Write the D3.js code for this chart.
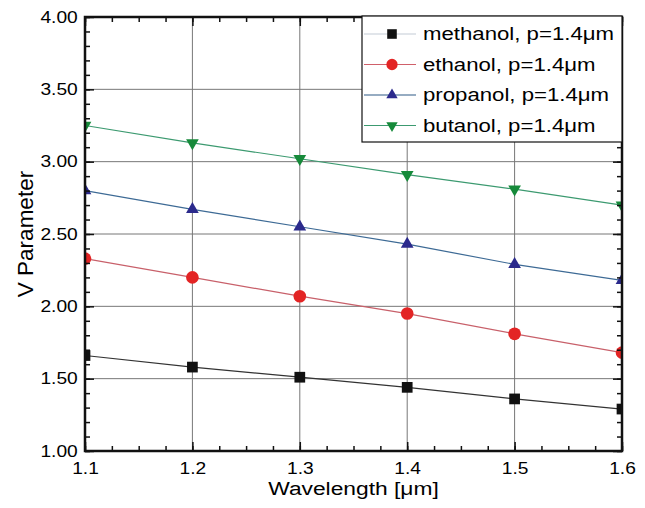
<!DOCTYPE html>
<html>
<head>
<meta charset="utf-8">
<script src="https://cdn.jsdelivr.net/npm/d3@7"></script>
<style>
  body { margin: 0; background: #fff; }
  text { font-family: "Liberation Sans", Arial, sans-serif; }
</style>
</head>
<body>
<div id="chart"></div>
<script>
// Data
const wavelengths = [1.1, 1.2, 1.3, 1.4, 1.5, 1.6];
const methanol = [1.66, 1.58, 1.51, 1.44, 1.36, 1.29];
const ethanol  = [2.33, 2.20, 2.07, 1.95, 1.81, 1.68];
const propanol = [2.80, 2.67, 2.55, 2.43, 2.29, 2.18];
const butanol  = [3.25, 3.13, 3.02, 2.91, 2.81, 2.70];
const seriesNames = ["methanol, p=1.4\u03bcm", "ethanol, p=1.4\u03bcm", "propanol, p=1.4\u03bcm", "butanol, p=1.4\u03bcm"];
const xTicks = [1.1, 1.2, 1.3, 1.4, 1.5, 1.6];
const yTicks = [1.0, 1.5, 2.0, 2.5, 3.0, 3.5, 4.0];

const series = [
    { name: seriesNames[0], values: methanol, line: "#333", key: "#c4ccd6", fill: "#111", symbol: d3.symbolSquare, size: 115, rot: 0 },
    { name: seriesNames[1], values: ethanol,  line: "#c8606a", key: "#d0606a", fill: "#e32424", symbol: d3.symbolCircle, size: 125, rot: 0 },
    { name: seriesNames[2], values: propanol, line: "#3d6a95", key: "#2f5a85", fill: "#2b2a8c", symbol: d3.symbolTriangle, size: 70, rot: 0 },
    { name: seriesNames[3], values: butanol,  line: "#3c9a70", key: "#3c9a70", fill: "#168a3a", symbol: d3.symbolTriangle, size: 70, rot: 180 }
];

// the reference text is a bit wider than tall
const stretch = 1.2;

const width = 645, height = 508;
const margin = { top: 17, right: 23, bottom: 57, left: 85 };

const svg = d3.select("#chart")
    .append("svg")
    .attr("width", width)
    .attr("height", height);

const x = d3.scaleLinear()
    .domain([1.1, 1.6])
    .range([margin.left, width - margin.right]);

const y = d3.scaleLinear()
    .domain([1.0, 4.0])
    .range([height - margin.bottom, margin.top]);

const x0 = margin.left, x1 = width - margin.right;
const y0 = height - margin.bottom, y1 = margin.top;

// grid lines
svg.append("g")
    .selectAll("line")
    .data(xTicks.slice(1, -1))
    .enter()
    .append("line")
    .attr("x1", d => x(d)).attr("x2", d => x(d))
    .attr("y1", y0).attr("y2", y1)
    .attr("stroke", "#777")
    .attr("stroke-width", 1);

svg.append("g")
    .selectAll("line")
    .data(yTicks.slice(1, -1))
    .enter()
    .append("line")
    .attr("x1", x0).attr("x2", x1)
    .attr("y1", d => y(d)).attr("y2", d => y(d))
    .attr("stroke", "#777")
    .attr("stroke-width", 1);

// clip the plotted series to the frame
svg.append("clipPath")
    .attr("id", "plot-clip")
    .append("rect")
    .attr("x", x0).attr("y", y1)
    .attr("width", x1 - x0).attr("height", y0 - y1);

const plot = svg.append("g").attr("clip-path", "url(#plot-clip)");

const line = d3.line()
    .x((d, i) => x(wavelengths[i]))
    .y(d => y(d));

series.forEach(s => {
    plot.append("path")
        .datum(s.values)
        .attr("d", line)
        .attr("fill", "none")
        .attr("stroke", s.line)
        .attr("stroke-width", 1.2);

    plot.selectAll(null)
        .data(s.values)
        .enter()
        .append("path")
        .attr("d", d3.symbol().type(s.symbol).size(s.size))
        .attr("transform", (d, i) => `translate(${x(wavelengths[i])},${y(d)}) rotate(${s.rot})`)
        .attr("fill", s.fill);
});

// axes (inward ticks on all four sides)
const minorX = d3.range(1.1, 1.6001, 0.025);
const minorY = d3.range(1.0, 4.0001, 0.1);

svg.append("g")
    .attr("transform", `translate(0,${y0})`)
    .call(d3.axisBottom(x).tickValues(minorX).tickSize(-5).tickFormat(""))
    .call(g => g.select(".domain").remove());
svg.append("g")
    .attr("transform", `translate(0,${y0})`)
    .call(d3.axisBottom(x).tickValues(xTicks).tickSize(-9).tickPadding(12).tickFormat(d3.format(".1f")))
    .call(g => g.select(".domain").remove())
    .selectAll("text")
    .attr("font-size", 16)
    .attr("fill", "#000")
    .attr("transform", `scale(${stretch},1)`);

svg.append("g")
    .attr("transform", `translate(0,${y1})`)
    .call(d3.axisTop(x).tickValues(minorX).tickSize(-5).tickFormat(""))
    .call(g => g.select(".domain").remove());
svg.append("g")
    .attr("transform", `translate(0,${y1})`)
    .call(d3.axisTop(x).tickValues(xTicks).tickSize(-9).tickFormat(""))
    .call(g => g.select(".domain").remove());

svg.append("g")
    .attr("transform", `translate(${x0},0)`)
    .call(d3.axisLeft(y).tickValues(minorY).tickSize(-5).tickFormat(""))
    .call(g => g.select(".domain").remove());
svg.append("g")
    .attr("transform", `translate(${x0},0)`)
    .call(d3.axisLeft(y).tickValues(yTicks).tickSize(-9).tickPadding(6).tickFormat(d3.format(".2f")))
    .call(g => g.select(".domain").remove())
    .selectAll("text")
    .attr("font-size", 16)
    .attr("fill", "#000")
    .attr("transform", `scale(${stretch},1)`);

svg.append("g")
    .attr("transform", `translate(${x1},0)`)
    .call(d3.axisRight(y).tickValues(minorY).tickSize(-5).tickFormat(""))
    .call(g => g.select(".domain").remove());
svg.append("g")
    .attr("transform", `translate(${x1},0)`)
    .call(d3.axisRight(y).tickValues(yTicks).tickSize(-9).tickFormat(""))
    .call(g => g.select(".domain").remove());

svg.selectAll(".tick line").attr("stroke", "#111").attr("stroke-width", 1.5);

// frame
svg.append("rect")
    .attr("x", x0).attr("y", y1)
    .attr("width", x1 - x0).attr("height", y0 - y1)
    .attr("fill", "none")
    .attr("stroke", "#111")
    .attr("stroke-width", 2.5);

// axis labels
svg.append("text")
    .attr("transform", `translate(${(x0 + x1) / 2},${height - 13}) scale(${stretch},1)`)
    .attr("text-anchor", "middle")
    .attr("font-size", 19)
    .attr("fill", "#000")
    .text("Wavelength [\u03bcm]");

svg.append("text")
    .attr("transform", "rotate(-90)")
    .attr("x", -(y0 + y1) / 2)
    .attr("y", 33)
    .attr("text-anchor", "middle")
    .attr("font-size", 22.5)
    .attr("fill", "#000")
    .text("V Parameter");

// legend
const legend = svg.append("g");
legend.append("rect")
    .attr("x", 362).attr("y", y1 - 1)
    .attr("width", x1 - 362).attr("height", 126)
    .attr("fill", "#fff")
    .attr("stroke", "#111")
    .attr("stroke-width", 1.2);

series.forEach((s, i) => {
    const ly = 34 + i * 30.5;
    legend.append("line")
        .attr("x1", 364).attr("x2", 416)
        .attr("y1", ly).attr("y2", ly)
        .attr("stroke", s.key)
        .attr("stroke-width", 1.2);
    legend.append("path")
        .attr("d", d3.symbol().type(s.symbol).size(s.size * 0.8))
        .attr("transform", `translate(392,${ly}) rotate(${s.rot})`)
        .attr("fill", s.fill);
    legend.append("text")
        .attr("transform", `translate(423,${ly}) scale(${stretch},1)`)
        .attr("dy", "0.35em")
        .attr("font-size", 18.5)
        .attr("fill", "#000")
        .text(s.name);
});
</script>
</body>
</html>
